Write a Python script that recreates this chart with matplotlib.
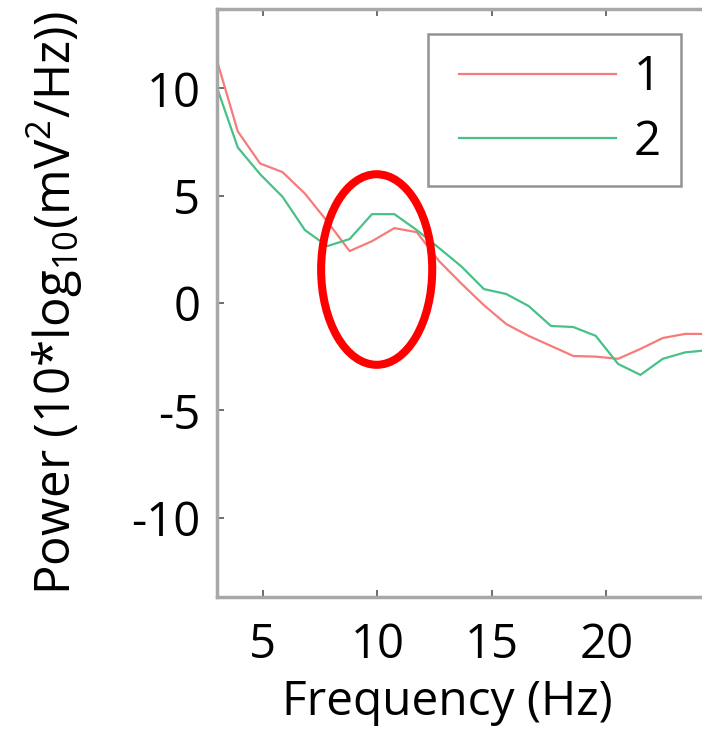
import matplotlib
matplotlib.use('Agg')
import matplotlib.pyplot as plt
from matplotlib.patches import Ellipse
from matplotlib.legend_handler import HandlerLine2D
import numpy as np

# frequency bins (250 Hz / 256 points)
bins = np.arange(3, 26)
freqs = bins * 250 / 256

power_1 = [11.55, 8.0, 6.5, 6.1, 5.1, 3.8, 2.42, 2.88, 3.49, 3.3, 1.95, 0.9,
           -0.1, -0.98, -1.53, -2.0, -2.47, -2.5, -2.6, -2.14, -1.63, -1.44, -1.44]
power_2 = [10.25, 7.25, 6.0, 4.95, 3.4, 2.65, 2.98, 4.14, 4.14, 3.4, 2.56, 1.7,
           0.65, 0.42, -0.14, -1.07, -1.12, -1.53, -2.84, -3.35, -2.6, -2.3, -2.2]
labels = ['1', '2']
colors = ['#f77b7b', '#48c187']

plt.rcParams['font.family'] = ['Open Sans', 'DejaVu Sans']
plt.rcParams['mathtext.fontset'] = 'custom'
plt.rcParams['mathtext.rm'] = 'Open Sans'
plt.rcParams['mathtext.it'] = 'Open Sans'
plt.rcParams['axes.unicode_minus'] = False

fig = plt.figure(figsize=(7.02, 7.35), dpi=100)
ax = fig.add_axes([217 / 702, 138 / 735, 504 / 702, 588 / 735])

lines = []
for vals, lab, c in zip([power_1, power_2], labels, colors):
    l, = ax.plot(freqs, vals, color=c, lw=1.6, label=lab)
    lines.append(l)

# highlight around the alpha peak
ax.add_patch(Ellipse((9.97, 1.56), 4.85, 8.88, fill=False, ec='#ff0000', lw=5.8, zorder=5))

ax.set_xlim(3, 25)
ax.set_ylim(-13.7, 13.7)
ax.set_xticks([5, 10, 15, 20])
ax.set_yticks([-10, -5, 0, 5, 10])
ax.tick_params(direction='in', length=5, width=1.2, color='#555555',
               labelsize=34, top=True, right=True)
ax.tick_params(axis='y', pad=12)
ax.tick_params(axis='x', pad=18)
for s in ax.spines.values():
    s.set_color('#a8a8a8')
    s.set_linewidth(2.5)

ax.set_xlabel('Frequency (Hz)', fontsize=34.5)
ax.xaxis.set_label_coords(0.456, -0.139)
ax.set_ylabel(r'Power (10*log$_{10}$(mV$^{2}$/Hz))', fontsize=35.5)
ax.yaxis.set_label_coords(-0.262, 0.5)

hmap = {l: HandlerLine2D(xpad=0.233) for l in lines}
leg = ax.legend(handles=lines, loc='upper left', bbox_to_anchor=(428 / 702, 1 - 34 / 735),
                bbox_transform=fig.transFigure, fontsize=34, handlelength=3.56,
                handletextpad=0.38, borderpad=0.42, labelspacing=0.36,
                fancybox=False, borderaxespad=0, handler_map=hmap)
leg.get_frame().set_edgecolor('#777777')
leg.get_frame().set_linewidth(1.8)

fig.savefig('out.png', dpi=100)
